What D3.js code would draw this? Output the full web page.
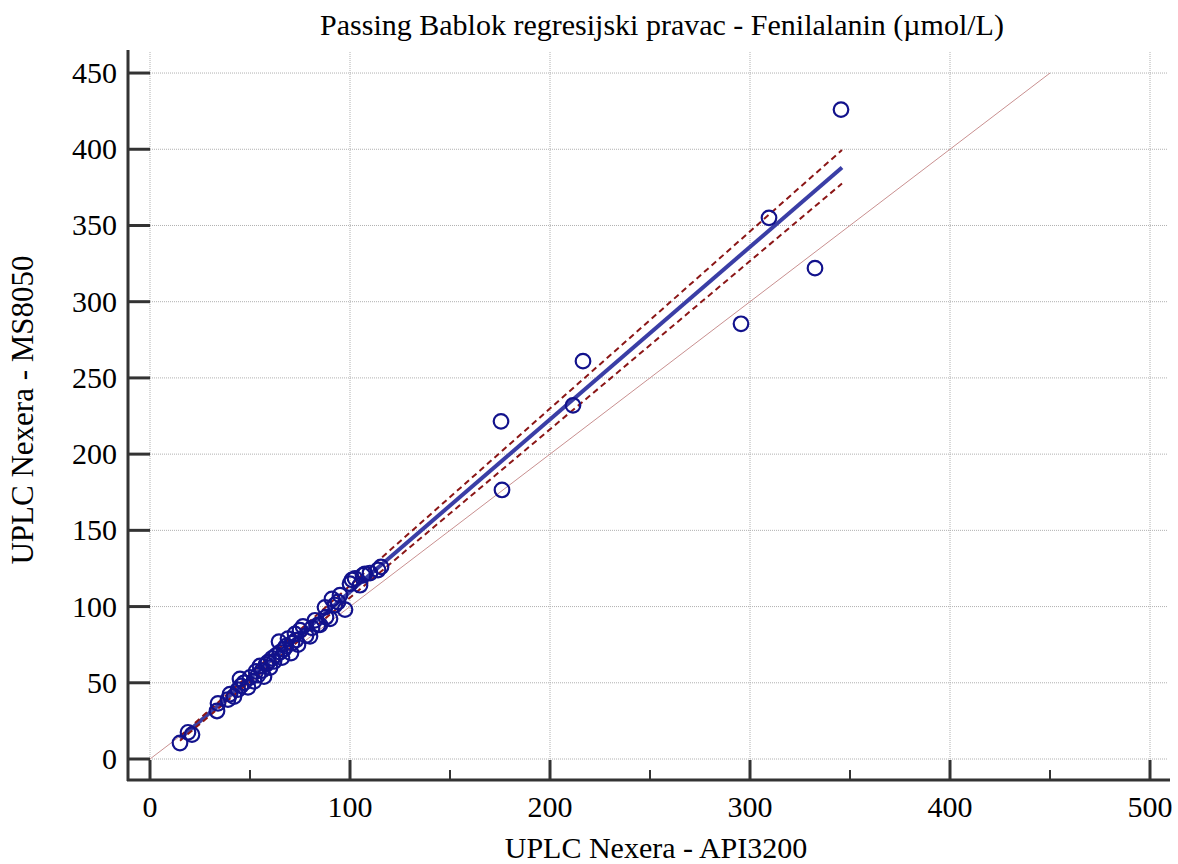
<!DOCTYPE html>
<html><head><meta charset="utf-8">
<script src="https://cdn.jsdelivr.net/npm/d3@7"></script>
<style>body{margin:0;background:#fff}text{font-family:"Liberation Serif","Times New Roman",serif;fill:#000}</style>
</head><body><svg id="c" width="1178" height="864"></svg>
<script>
const titleText = "Passing Bablok regresijski pravac - Fenilalanin (µmol/L)";
const xLabel = "UPLC Nexera - API3200";
const yLabel = "UPLC Nexera - MS8050";
const xTicks = [0,100,200,300,400,500];
const xMinorTicks = [50,150,250,350,450];
const yTicks = [0,50,100,150,200,250,300,350,400,450];
const xVals = [15,19,21,33.5,34,39,40,42,44,45.5,45,47,49,50,52,53,54,55,56,57,58,59,60,61,62,63,64.5,65,66,67,68,69,70.5,71,72.5,73,74,75,76.5,78,80,81,82.5,84,85,87.5,88,90,91,92.5,94,95,97.5,100,101,102.5,105,106.5,107.5,110,114,115.5,175.5,176,211.5,216.5,295.5,309.5,332.5,345.5];
const yVals = [10.5,17.5,16,31.5,36.5,39,42.5,41,45.5,48,52.5,50,47,53.5,51,57.5,55,61,58,54,62,63.5,60,66,64,68,77,70,66.5,72,74,79,69.5,76,82,78,75,84.5,87,81,80.5,86,91,88,88,99.5,93,92,105,101,103,107.5,98,115,117.5,118.5,114,120.5,121.5,122,124,126,221.5,176.5,232,261,285.5,355,322,426];
const identityLine = [[0,0],[450,450]];
const regressionLine = [[15,13.5],[346,388]];
const ciUpper = [[15,15],[346,399.5]];
const ciLower = [[15,12],[346,377.5]];

const svg = d3.select("#c");
const x = d3.scaleLinear().domain([0,509]).range([150,1168]);
const y = d3.scaleLinear().domain([0,463.8]).range([759,52]);

// grid
const g = svg.append("g");
g.selectAll(".hg").data(yTicks).join("line")
  .attr("x1",150).attr("x2",1168).attr("y1",d=>y(d)).attr("y2",d=>y(d))
  .attr("stroke","#b0b0b0").attr("stroke-width",1).attr("stroke-dasharray","1,1");
g.selectAll(".vg").data(xTicks).join("line")
  .attr("y1",52).attr("y2",759).attr("x1",d=>x(d)).attr("x2",d=>x(d))
  .attr("stroke","#b0b0b0").attr("stroke-width",1).attr("stroke-dasharray","1,1");

// axes
const axCol = "#333";
svg.append("line").attr("x1",128).attr("x2",128).attr("y1",50).attr("y2",781).attr("stroke",axCol).attr("stroke-width",3);
svg.append("line").attr("x1",127).attr("x2",1170).attr("y1",780).attr("y2",780).attr("stroke",axCol).attr("stroke-width",3);
svg.selectAll(".yt").data(yTicks).join("line")
  .attr("x1",128).attr("x2",150).attr("y1",d=>y(d)).attr("y2",d=>y(d)).attr("stroke",axCol).attr("stroke-width",3);
svg.selectAll(".xt").data(xTicks).join("line")
  .attr("y1",780).attr("y2",760).attr("x1",d=>x(d)).attr("x2",d=>x(d)).attr("stroke",axCol).attr("stroke-width",3);
svg.selectAll(".xmt").data(xMinorTicks).join("line")
  .attr("y1",780).attr("y2",770).attr("x1",d=>x(d)).attr("x2",d=>x(d)).attr("stroke",axCol).attr("stroke-width",2);

svg.selectAll(".xl").data(xTicks).join("text")
  .attr("x",d=>x(d)).attr("y",817).attr("text-anchor","middle").attr("font-size",30).text(d=>d);
svg.selectAll(".yl").data(yTicks).join("text")
  .attr("x",117).attr("y",d=>y(d)+10).attr("text-anchor","end").attr("font-size",30).text(d=>d);

// lines
const line = d3.line().x(d=>x(d[0])).y(d=>y(d[1]));
svg.append("path").attr("d",line(identityLine)).attr("stroke","#c99090").attr("stroke-width",1).attr("fill","none");
svg.append("path").attr("d",line(regressionLine)).attr("stroke","#3a3ea6").attr("stroke-width",4).attr("fill","none");
[ciUpper,ciLower].forEach(c=>svg.append("path").attr("d",line(c)).attr("stroke","#8b1616").attr("stroke-width",2).attr("stroke-dasharray","6,4").attr("fill","none"));

// points
svg.selectAll(".pt").data(xVals.map((v,i)=>[v,yVals[i]])).join("circle")
  .attr("cx",d=>x(d[0])).attr("cy",d=>y(d[1])).attr("r",7.3)
  .attr("fill","none").attr("stroke","#12128c").attr("stroke-width",2.2);

// titles
svg.append("text").attr("x",662).attr("y",35).attr("text-anchor","middle").attr("font-size",30).text(titleText);
svg.append("text").attr("x",656).attr("y",858).attr("text-anchor","middle").attr("font-size",30).text(xLabel);
svg.append("text").attr("transform","translate(33,410) rotate(-90)").attr("text-anchor","middle").attr("font-size",31).text(yLabel);
</script></body></html>
